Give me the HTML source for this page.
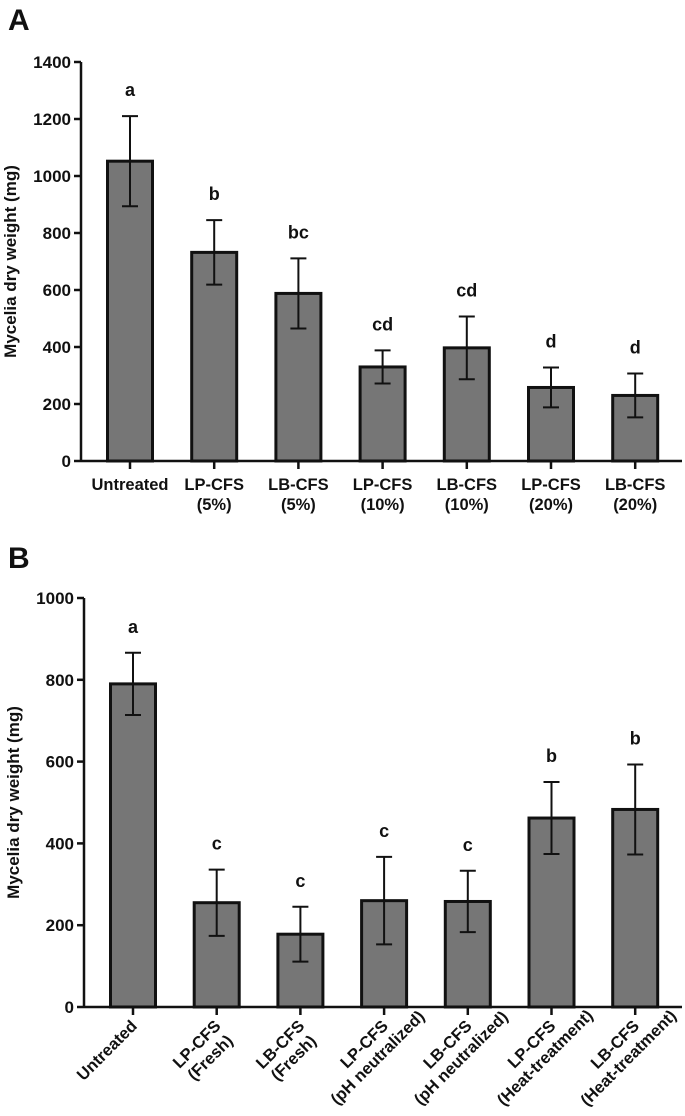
<!DOCTYPE html>
<html><head><meta charset="utf-8"><style>
body{margin:0;background:#fff}
svg text{font-family:"Liberation Sans",Arial,sans-serif;font-weight:bold;fill:#111}
</style></head><body>
<svg id="c" width="685" height="1111" xmlns="http://www.w3.org/2000/svg">
<text x="8" y="30" font-size="30">A</text>
<text x="8" y="568" font-size="30">B</text>
</svg>
<script>
const catsA=[["Untreated"],["LP-CFS","(5%)"],["LB-CFS","(5%)"],["LP-CFS","(10%)"],["LB-CFS","(10%)"],["LP-CFS","(20%)"],["LB-CFS","(20%)"]];
const valsA=[1052,732,588,330,397,258,230];
const errA=[158,113,123,58,110,70,77];
const letA=["a","b","bc","cd","cd","d","d"];
const ticksA=[0,200,400,600,800,1000,1200,1400];
const catsB=[["Untreated"],["LP-CFS","(Fresh)"],["LB-CFS","(Fresh)"],["LP-CFS","(pH neutralized)"],["LB-CFS","(pH neutralized)"],["LP-CFS","(Heat-treatment)"],["LB-CFS","(Heat-treatment)"]];
const valsB=[790,255,178,260,258,462,483];
const errB=[76,81,67,107,75,88,110];
const letB=["a","c","c","c","c","b","b"];
const ticksB=[0,200,400,600,800,1000];
const svg=document.getElementById('c');const NS="http://www.w3.org/2000/svg";
function mk(t,a,p){const e=document.createElementNS(NS,t);for(const k in a)e.setAttribute(k,a[k]);(p||svg).appendChild(e);return e;}
function panel(o){
 const y=v=>o.y0-(v/o.max)*(o.y0-o.ytop);const x=i=>o.x0+i*o.step;
 const g=mk('g',{});
 
 
 o.vals.forEach((v,i)=>{
  const b=mk('rect',{x:x(i)-o.bw/2,y:y(v),width:o.bw,height:o.y0-y(v),fill:'#767676',stroke:'#111','stroke-width':3},g);
  
  
  const e=mk('path',{d:`M${x(i)},${y(v-o.err[i])}V${y(v+o.err[i])}M${x(i)-8},${y(v-o.err[i])}h16M${x(i)-8},${y(v+o.err[i])}h16`,stroke:'#111','stroke-width':2,fill:'none'},g);
  
  
  const l=mk('text',{x:x(i),y:y(v+o.err[i])-o.lgap,'font-size':18,'text-anchor':'middle'},g);l.textContent=o.let[i];
  
  
  mk('line',{x1:x(i),x2:x(i),y1:o.y0,y2:o.y0+8,stroke:'#111','stroke-width':2.5},g);
  const t=mk('text',{'font-size':o.rot?16.5:16.5},g);
  
  
  if(o.rot){
   t.setAttribute('text-anchor','middle');
   const spans=o.cats[i].map((s,j)=>{const ts=mk('tspan',{x:0,dy:j?19:0},t);ts.textContent=s;return ts;});
   const w1=spans[0].getComputedTextLength();
   t.setAttribute('transform',`translate(${x(i)+5},${o.y0+20}) rotate(-45) translate(${-w1/2},0)`);
  }else{
   t.setAttribute('text-anchor','middle');
   o.cats[i].forEach((s,j)=>{const ts=mk('tspan',{x:x(i),y:o.y0+29+j*20},t);ts.textContent=s;});
  }
 });
 const ax=o.ax;
 mk('line',{x1:ax,x2:682,y1:o.y0,y2:o.y0,stroke:'#111','stroke-width':2.5},g);
 mk('line',{x1:ax,x2:ax,y1:o.ytop,y2:o.y0,stroke:'#111','stroke-width':2.5},g);
 o.ticks.forEach(tv=>{mk('line',{x1:ax-7,x2:ax,y1:y(tv),y2:y(tv),stroke:'#111','stroke-width':2.5},g);
  const t=mk('text',{x:ax-10,y:y(tv)+6,'font-size':17,'text-anchor':'end'},g);t.textContent=tv;
  
  });
 const yt=mk('text',{'font-size':17,'text-anchor':'middle',transform:`translate(${o.ytx},${(o.ytop+o.y0)/2}) rotate(-90)`},g);
 yt.textContent='Mycelia dry weight (mg)';
 
 
}
panel({id:'panel-a',cats:catsA,vals:valsA,err:errA,let:letA,ticks:ticksA,max:1400,y0:461,ytop:62,x0:130,step:84.2,bw:45,lgap:20,rot:false,ax:81,ytx:16});
panel({id:'panel-b',cats:catsB,vals:valsB,err:errB,let:letB,ticks:ticksB,max:1000,y0:1007,ytop:598,x0:133,step:83.7,bw:45,lgap:20,rot:true,ax:84,ytx:19});
</script>
</body></html>
